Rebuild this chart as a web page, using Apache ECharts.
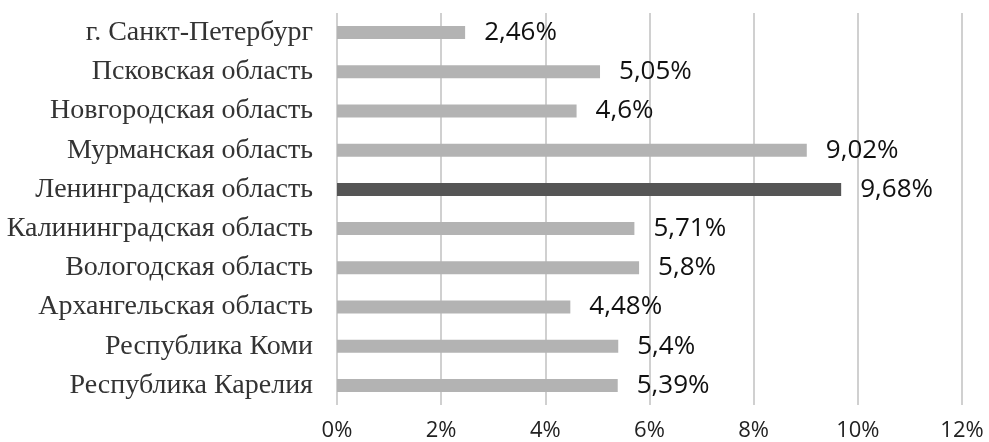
<!DOCTYPE html>
<html><head><meta charset="utf-8">
<script src="https://cdn.jsdelivr.net/npm/echarts@6/dist/echarts.min.js"></script>
<style>html,body{margin:0;padding:0;background:#fff;}#c{width:989px;height:442px;}</style>
</head><body><div id="c"></div>
<script>
var categories = ["Республика Карелия","Республика Коми","Архангельская область","Вологодская область","Калининградская область","Ленинградская область","Мурманская область","Новгородская область","Псковская область","г. Санкт-Петербург"];
var values = [5.39, 5.4, 4.48, 5.8, 5.71, 9.68, 9.02, 4.6, 5.05, 2.46];
var highlight = "Ленинградская область";
var xTicks = [0, 2, 4, 6, 8, 10, 12];

var chart = echarts.init(document.getElementById('c'));
chart.setOption({
  animation: false,
  grid: {left: 337, right: 27, top: 13, bottom: 32, containLabel: false},
  xAxis: {
    type: 'value', min: xTicks[0], max: xTicks[xTicks.length - 1], interval: 2,
    axisLine: {show: false}, axisTick: {show: false},
    splitLine: {show: true, lineStyle: {color: '#d0d0d0', width: 2}},
    axisLabel: {formatter: function(v){return v + '%';}, fontFamily: 'Open Sans', fontSize: 22, color: '#222', margin: 15}
  },
  yAxis: {
    type: 'category', data: categories,
    axisLine: {show: false}, axisTick: {show: false},
    axisLabel: {fontFamily: 'Liberation Serif', fontSize: 28, color: '#333', margin: 24}
  },
  series: [{
    type: 'bar', barWidth: 13,
    data: values.map(function(v, i){
      return {value: v, itemStyle: {color: categories[i] === highlight ? '#555555' : '#b3b3b3'}};
    }),
    label: {show: true, position: 'right', distance: 19, fontFamily: 'Open Sans', fontSize: 26, color: '#111',
      formatter: function(p){return String(p.value).replace('.', ',') + '%';}}
  }]
});
</script></body></html>
